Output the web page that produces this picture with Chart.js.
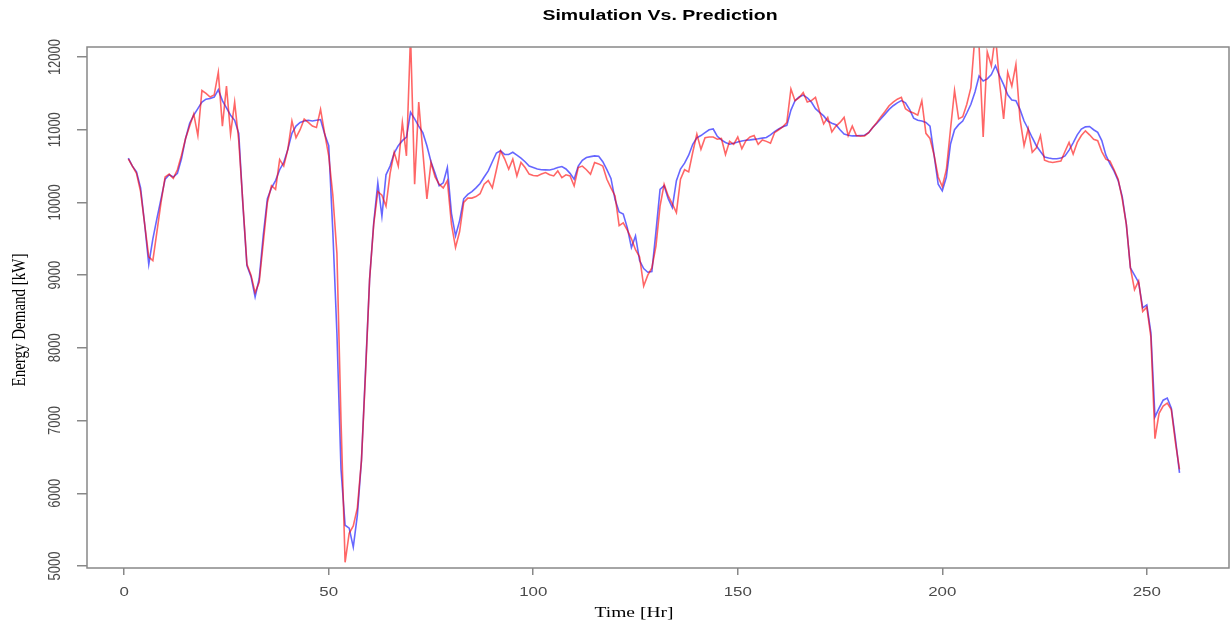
<!DOCTYPE html>
<html>
<head>
<meta charset="utf-8">
<title>Simulation Vs. Prediction</title>
<script src="https://cdn.jsdelivr.net/npm/chart.js@4.4.1/dist/chart.umd.min.js"></script>
<style>
  html, body { margin: 0; padding: 0; background: #fff; }
</style>
</head>
<body>
<canvas id="chart" width="1232" height="626"></canvas>
<script>
// hourly energy demand, simulated model output vs. predicted values (kW)
const simulation = [
  10610, 10500, 10420, 10200, 9700, 9150, 9500, 9780, 10050, 10320,
  10380, 10350, 10400, 10600, 10880, 11090, 11200, 11290, 11380, 11420,
  11430, 11450, 11550, 11400, 11300, 11200, 11130, 10950, 9980, 9130,
  8980, 8700, 8950, 9550, 10050, 10200, 10300, 10450, 10550, 10730,
  10950, 11050, 11100, 11120, 11130, 11120, 11130, 11140, 10940, 10780,
  9600, 8200, 6330, 5560, 5520, 5260, 5700, 6450, 7700, 8950,
  9720, 10270, 9810, 10380, 10500, 10680, 10780, 10850, 10900, 11240,
  11150, 11050, 10960, 10780, 10560, 10400, 10230, 10270, 10480, 9850,
  9540, 9750, 10050, 10110, 10150, 10200, 10260, 10350, 10434, 10560,
  10680, 10710, 10660, 10660, 10690, 10650, 10610, 10560, 10500, 10480,
  10460, 10450, 10448, 10447, 10460, 10480, 10494, 10460, 10400, 10320,
  10500, 10580, 10618, 10630, 10640, 10635, 10560, 10450, 10330, 10040,
  9870, 9840, 9650, 9380, 9540, 9200, 9090, 9040, 9050, 9600,
  10180, 10230, 10050, 9930, 10300, 10460, 10540, 10650, 10800, 10890,
  10920, 10960, 11000, 11010, 10910, 10860, 10825, 10800, 10815, 10830,
  10845, 10855, 10860, 10868, 10875, 10885, 10893, 10930, 10975, 11010,
  11040, 11060, 11270, 11400, 11450, 11476, 11440, 11380, 11290, 11240,
  11190, 11120, 11090, 11070, 11000, 10940, 10925, 10915, 10915, 10920,
  10925, 10960, 11030, 11090, 11150, 11215, 11280, 11330, 11370, 11400,
  11370, 11280, 11160, 11130, 11120, 11100, 11050, 10650, 10250, 10160,
  10350, 10800, 11000, 11070, 11120, 11230, 11350, 11520, 11740, 11670,
  11700, 11760, 11880, 11740, 11620, 11480, 11410, 11400, 11280, 11120,
  11010, 10890, 10780, 10700, 10625, 10610, 10600, 10600, 10610, 10640,
  10720, 10820, 10930, 11008, 11040, 11045, 11000, 10965, 10850, 10650,
  10530, 10430, 10300, 10080, 9700, 9100, 9000, 8900, 8550, 8590,
  8210, 7050, 7170, 7280, 7310, 7170, 6750, 6280
];

const prediction = [
  10600, 10500, 10400, 10150, 9700, 9250, 9200, 9600, 10000, 10350,
  10390, 10330, 10450, 10650, 10880, 11050, 11215, 10920, 11540, 11500,
  11450, 11480, 11790, 11050, 11600, 10940, 11380, 10850, 10000, 9150,
  9000, 8760, 8900, 9450, 10000, 10230, 10180, 10590, 10500, 10730,
  11120, 10890, 11000, 11146, 11100, 11050, 11030, 11280, 10950, 10640,
  10100, 9300, 7000, 5050, 5450, 5550, 5800, 6450, 7650, 8950,
  9700, 10150, 10100, 9950, 10400, 10690, 10500, 11100, 10640, 12300,
  10250, 11380, 10700, 10050, 10550, 10350, 10250, 10200, 10300, 9700,
  9380, 9600, 10000, 10060, 10060, 10080, 10120, 10250, 10300, 10200,
  10450, 10710, 10600, 10457, 10595, 10365, 10550, 10480, 10390, 10370,
  10365, 10390, 10411, 10380, 10365, 10434, 10342, 10380, 10365, 10227,
  10480, 10500, 10450, 10388, 10549, 10530, 10500, 10319, 10200, 10089,
  9680, 9720, 9620, 9500, 9350, 9250, 8850, 9000, 9100, 9400,
  9950, 10250, 10090, 9980, 9860, 10320, 10450, 10420, 10690, 10940,
  10730, 10890, 10900, 10900, 10870, 10880, 10660, 10840, 10800, 10900,
  10740, 10850, 10900, 10920, 10800, 10860, 10840, 10815, 10960, 11000,
  11040, 11100, 11560, 11400, 11440, 11510, 11380, 11400, 11445, 11250,
  11080, 11170, 10970, 11050, 11100, 11170, 10920, 11050, 10920, 10910,
  10915, 10960, 11030, 11100, 11180, 11250, 11330, 11380, 11420, 11445,
  11290, 11250, 11230, 11200, 11400, 10950, 10880, 10650, 10350, 10220,
  10450, 11000, 11540, 11150, 11180, 11350, 11580, 12300, 12150, 10900,
  12070, 11880, 12300, 11650, 11150, 11790, 11600, 11900, 11150, 10780,
  11010, 10690, 10750, 10920, 10580, 10560, 10550, 10560, 10570, 10700,
  10825, 10664, 10825, 10920, 10985, 10930, 10870, 10850, 10700, 10595,
  10570, 10450, 10320, 10050, 9700, 9100, 8800, 8920, 8500, 8560,
  8150, 6750, 7100, 7200, 7240, 7150, 6700, 6330
];

const hours = simulation.map((_, i) => i + 1);
const xTicks = [0, 50, 100, 150, 200, 250];
const yTicks = [5000, 6000, 7000, 8000, 9000, 10000, 11000, 12000];

// the plot was saved stretched sideways, so text is widened the same way
const STRETCH = 1.3;

function wideText(ctx, str, x, y, rotate) {
  ctx.save();
  ctx.translate(x, y);
  if (rotate) {
    ctx.rotate(-Math.PI / 2);
    ctx.scale(1, STRETCH);
  } else {
    ctx.scale(STRETCH, 1);
  }
  ctx.fillText(str, 0, 0);
  ctx.restore();
}

// R-style box, tick labels and titles
const rFrame = {
  id: 'rFrame',
  afterDraw(chart) {
    const { ctx, chartArea: a, scales } = chart;
    ctx.save();
    ctx.strokeStyle = '#888';
    ctx.lineWidth = 1.5;
    ctx.strokeRect(a.left, a.top, a.right - a.left, a.bottom - a.top);

    ctx.textAlign = 'center';
    ctx.textBaseline = 'middle';
    ctx.fillStyle = '#4a4a4a';
    ctx.font = '13px "Liberation Sans"';
    xTicks.forEach(v => wideText(ctx, String(v), scales.x.getPixelForValue(v), 592, false));
    yTicks.forEach(v => wideText(ctx, String(v), 55, scales.y.getPixelForValue(v), true));

    ctx.fillStyle = '#000';
    ctx.font = 'bold 15px "Liberation Sans"';
    wideText(ctx, 'Simulation Vs. Prediction', 660, 16, false);

    ctx.font = '15px "Liberation Serif"';
    wideText(ctx, 'Time [Hr]', 634, 613, false);
    wideText(ctx, 'Energy Demand [kW]', 20, 320, true);
    ctx.restore();
  }
};

new Chart(document.getElementById('chart'), {
  type: 'line',
  data: {
    datasets: [
      {
        label: 'Prediction',
        data: prediction.map((v, i) => ({ x: hours[i], y: v })),
        borderColor: 'rgba(255, 0, 0, 0.6)',
        borderWidth: 1.6,
        order: 0
      },
      {
        label: 'Simulation',
        data: simulation.map((v, i) => ({ x: hours[i], y: v })),
        borderColor: 'rgba(0, 0, 255, 0.6)',
        borderWidth: 1.6,
        order: 1
      }
    ]
  },
  options: {
    responsive: false,
    animation: false,
    layout: { padding: { top: 47, right: 3, left: 0, bottom: 0 } },
    elements: {
      point: { radius: 0 },
      line: { tension: 0 }
    },
    datasets: { line: { clip: 0 } },
    plugins: {
      legend: { display: false },
      tooltip: { enabled: false }
    },
    scales: {
      x: {
        type: 'linear',
        min: -9.1,
        max: 270.1,
        afterBuildTicks: s => { s.ticks = xTicks.map(v => ({ value: v })); },
        afterFit: s => { s.height = 58; },
        ticks: { display: false, autoSkip: false },
        grid: { drawOnChartArea: false, drawTicks: true, tickLength: 7, color: '#888', lineWidth: 1.5 },
        border: { display: false }
      },
      y: {
        min: 4972,
        max: 12138,
        afterBuildTicks: s => { s.ticks = yTicks.map(v => ({ value: v })); },
        afterFit: s => { s.width = 87; },
        ticks: { display: false, autoSkip: false },
        grid: { drawOnChartArea: false, drawTicks: true, tickLength: 10, color: '#888', lineWidth: 1.5 },
        border: { display: false }
      }
    }
  },
  plugins: [rFrame]
});
</script>
</body>
</html>
